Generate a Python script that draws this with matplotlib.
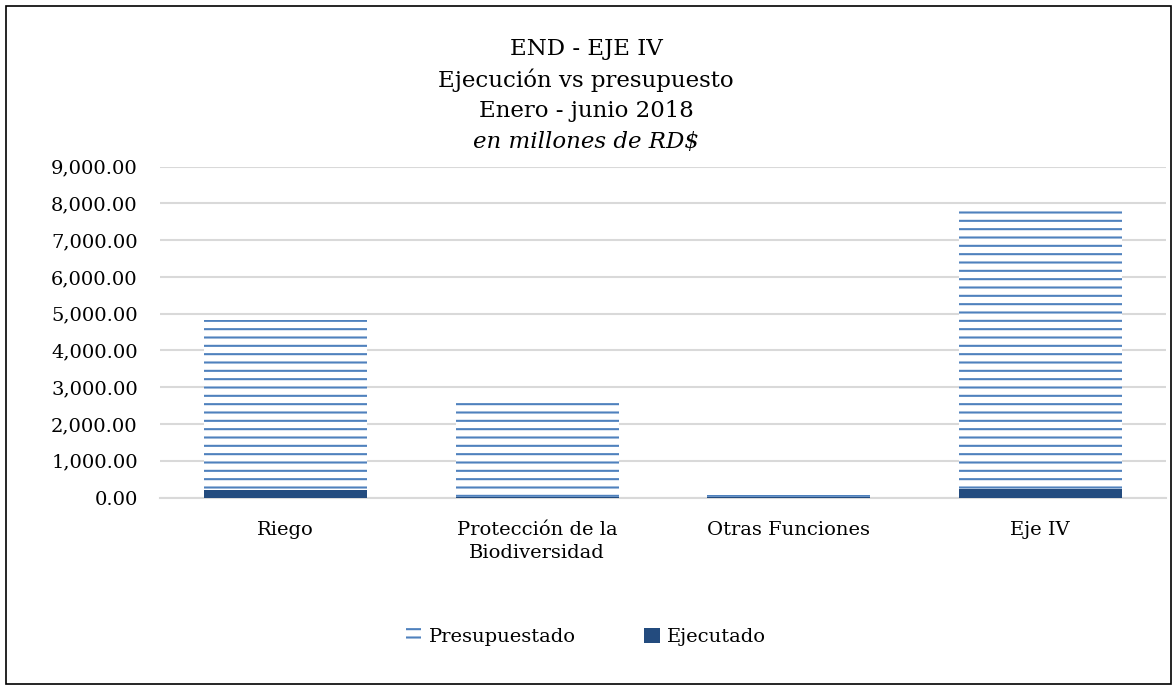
import numpy as np
import matplotlib
matplotlib.use('Agg')
import matplotlib.pyplot as plt
from matplotlib.patches import Patch, Rectangle

# Data (millones de RD$)
categorias = ['Riego', 'Protección de la\nBiodiversidad', 'Otras Funciones', 'Eje IV']
presupuestado = [4840, 2640, 60, 7880]
ejecutado = [200, 20, 5, 230]

titulo = ['END - EJE IV', 'Ejecución vs presupuesto', 'Enero - junio 2018']
subtitulo = 'en millones de RD$'

azul = '#4F81BD'
azul_osc = '#234B7E'
gris = '#D9D9D9'

plt.rcParams['font.family'] = ['DejaVu Serif']
plt.rcParams['hatch.linewidth'] = 1.5

fig = plt.figure(figsize=(11.72, 6.85), dpi=100)
ax = fig.add_axes([0.1365, 0.2737, 0.9949 - 0.1365, 0.7566 - 0.2737])

x = np.arange(len(categorias))
ax.bar(x, presupuestado, width=0.65, facecolor='white', edgecolor=azul,
       hatch='--', linewidth=0, zorder=2)
ax.bar(x, ejecutado, width=0.65, color=azul_osc, zorder=3)

ax.set_xlim(-0.5, len(categorias) - 0.5)
ax.set_ylim(0, 9000)
ax.set_yticks(np.arange(0, 9001, 1000))
ax.set_yticklabels([f'{v:,.2f}' for v in np.arange(0, 9001, 1000)])
ax.set_xticks(x)
ax.set_xticklabels(categorias, linespacing=1.35)
ax.tick_params(axis='both', length=0, labelsize=14, colors='black')
ax.tick_params(axis='y', pad=16)
ax.tick_params(axis='x', pad=17)
ax.yaxis.grid(True, color=gris, linewidth=1.5, zorder=0)
ax.set_axisbelow(True)
for s in ['top', 'right', 'left']:
    ax.spines[s].set_visible(False)
ax.spines['bottom'].set_color(gris)
ax.spines['bottom'].set_linewidth(1.5)

for i, linea in enumerate(titulo):
    fig.text(0.5, 1 - (49 + 31 * i) / 685, linea, ha='center', va='center',
             fontsize=16.5)
fig.text(0.5, 1 - 142 / 685, subtitulo, ha='center', va='center',
         fontsize=16.5, style='italic')

handles = [Patch(facecolor='white', edgecolor=azul, hatch='--', linewidth=0),
           Patch(facecolor=azul_osc)]
fig.legend(handles, ['Presupuestado', 'Ejecutado'], loc='center',
           bbox_to_anchor=(0.5, 1 - 637 / 685), ncol=2, frameon=False,
           fontsize=14, handlelength=0.8, handleheight=0.8,
           handletextpad=0.4, columnspacing=3.5)

# marco del grafico
fig.patches.append(Rectangle((6 / 1172, 1 / 685), 1 - 7 / 1172, 1 - 7 / 685,
                             transform=fig.transFigure, fill=False,
                             edgecolor='black', linewidth=1.2))

fig.savefig('out.png', dpi=100)
